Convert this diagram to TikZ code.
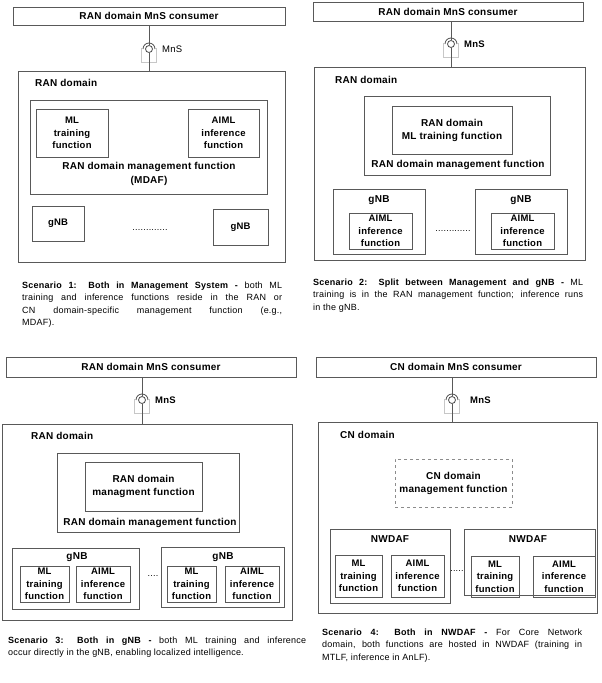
\documentclass[tikz,border=0pt]{standalone}
\usepackage{fontspec}
\setmainfont{Liberation Sans}[LetterSpace=2.5]
\usetikzlibrary{calc}

\begin{document}
\begin{tikzpicture}[x=1pt, y=-1pt,
		wh/.style 2 args={minimum width=#1pt, minimum height=#2pt},
		box/.style={draw=black!65, line width=0.8pt, inner sep=0pt, align=center, font=\bfseries\fontsize{9.5}{12.5}\selectfont},
		dashbox/.style={box, draw=black!45, dashed},
		big/.style={font=\bfseries\fontsize{10}{13}\selectfont},
		lbl/.style={inner sep=0pt, align=center, big},
		mnslbl/.style={anchor=west, inner sep=0pt, font=\bfseries\fontsize{9.5}{12}\selectfont},
		mns/.style={circle, draw=black!70, line width=0.8pt, inner sep=0pt, minimum size=7pt},
		socket/.style={draw=black!70, line width=0.8pt},
		ghost/.style={draw=black!22, line width=0.6pt},
		link/.style={draw=black!65, line width=0.8pt},
		dots/.style={inner sep=0pt, font=\fontsize{9}{10}\selectfont},
		caption/.style={anchor=north west, inner sep=0pt, align=justify, font=\fontsize{9}{12.5}\selectfont}]
	\useasboundingbox (0,0) rectangle (602,683);

	% Scenario 1: both in management system
	\begin{scope}
		\node [box, big, wh={272}{18}] (s1con) at (149,16) {RAN domain MnS consumer};
		\node [box, wh={267}{191}] (s1ran) at (151.5,166.5) {};
		\node [lbl, anchor=west] (s1ranlbl) at (35,83) {RAN domain};
		\node [box, wh={237}{94}] (s1mf) at (148.5,147) {};
		\node [box, wh={72}{48}] (s1ml) at (72,133) {ML\\training\\function};
		\node [box, wh={71}{48}] (s1inf) at (223.5,133) {AIML\\inference\\function};
		\node [lbl, font=\bfseries\fontsize{10}{14}\selectfont] (s1mflbl) at (149,174) {RAN domain management function\\(MDAF)};
		\node [box, wh={52}{35}] (s1gnb1) at (58,223.5) {gNB};
		\node [box, wh={55}{36}] (s1gnb2) at (240.5,227) {gNB};
		\node [dots] (s1dots) at (150,230) {.............};

		\node [mns] (s1mns) at (149,49) {};
		\node [mnslbl, font=\fontsize{9.5}{12}\selectfont] (s1mnslbl) at (162,49) {MnS};
		\draw [socket] ($ (s1mns) + (-6,0) $) arc [start angle=180, end angle=0, radius=6pt];
		\draw [ghost] ($ (s1mns) + (-7.5,-1) $) -- ++(0,14) -- ++(15,0) -- ++(0,-14);
		\draw [link] (s1con.south -| s1mns) -- (s1mns) -- (s1mns |- s1ran.north);

		\node [caption, text width=260pt] (s1cap) at (22,281.5) {\textbf{Scenario 1: Both in Management System -} both ML\linebreak training and inference functions reside in the RAN or\linebreak CN domain-specific management function (e.g.,\linebreak MDAF).};
	\end{scope}

	% Scenario 2: split between management and gNB
	\begin{scope}
		\node [box, big, wh={270}{19}] (s2con) at (448,11.5) {RAN domain MnS consumer};
		\node [box, wh={271}{193}] (s2ran) at (449.5,163.5) {};
		\node [lbl, anchor=west] (s2ranlbl) at (335,80) {RAN domain};
		\node [box, wh={186}{79}] (s2mf) at (457,135.5) {};
		\node [box, big, wh={120}{48}] (s2ml) at (452,130) {RAN domain\\ML training function};
		\node [lbl] (s2mflbl) at (458,165) {RAN domain management function};
		\node [box, wh={92}{65}] (s2gnb1) at (379,221.5) {};
		\node [lbl] (s2gnb1lbl) at (379,200) {gNB};
		\node [box, wh={63}{36}] (s2inf1) at (380.5,231) {AIML\\inference\\function};
		\node [box, wh={92}{65}] (s2gnb2) at (521,221.5) {};
		\node [lbl] (s2gnb2lbl) at (521,200) {gNB};
		\node [box, wh={63}{36}] (s2inf2) at (522.5,231) {AIML\\inference\\function};
		\node [dots] (s2dots) at (453,231) {.............};

		\node [mns] (s2mns) at (451,44) {};
		\node [mnslbl] (s2mnslbl) at (464,44) {MnS};
		\draw [socket] ($ (s2mns) + (-6,0) $) arc [start angle=180, end angle=0, radius=6pt];
		\draw [ghost] ($ (s2mns) + (-7.5,-1) $) -- ++(0,14) -- ++(15,0) -- ++(0,-14);
		\draw [link] (s2con.south -| s2mns) -- (s2mns) -- (s2mns |- s2ran.north);

		\node [caption, text width=270pt] (s2cap) at (313,278.5) {\textbf{Scenario 2: Split between Management and gNB -} ML\linebreak training is in the RAN management function; inference runs\linebreak in the gNB.};
	\end{scope}

	% Scenario 3: both in gNB
	\begin{scope}
		\node [box, big, wh={290}{20}] (s3con) at (151,367) {RAN domain MnS consumer};
		\node [box, wh={290}{196}] (s3ran) at (147,522) {};
		\node [lbl, anchor=west] (s3ranlbl) at (31,436) {RAN domain};
		\node [box, wh={182}{79}] (s3mf) at (148,492.5) {};
		\node [box, big, wh={117}{49}] (s3mgt) at (143.5,486.5) {RAN domain\\managment function};
		\node [lbl] (s3mflbl) at (150,523) {RAN domain management function};
		\node [box, wh={127}{61}] (s3gnb1) at (75.5,578.5) {};
		\node [lbl] (s3gnb1lbl) at (77,557) {gNB};
		\node [box, wh={49}{36}] (s3ml1) at (44.5,584) {ML\\training\\function};
		\node [box, wh={54}{36}] (s3inf1) at (103,584) {AIML\\inference\\function};
		\node [box, wh={123}{60}] (s3gnb2) at (222.5,577) {};
		\node [lbl] (s3gnb2lbl) at (223,557) {gNB};
		\node [box, wh={49}{36}] (s3ml2) at (191.5,584) {ML\\training\\function};
		\node [box, wh={54}{36}] (s3inf2) at (252,584) {AIML\\inference\\function};
		\node [dots] (s3dots) at (153,576) {....};

		\node [mns] (s3mns) at (142,400) {};
		\node [mnslbl] (s3mnslbl) at (155,400) {MnS};
		\draw [socket] ($ (s3mns) + (-6,0) $) arc [start angle=180, end angle=0, radius=6pt];
		\draw [ghost] ($ (s3mns) + (-7.5,-1) $) -- ++(0,14) -- ++(15,0) -- ++(0,-14);
		\draw [link] (s3con.south -| s3mns) -- (s3mns) -- (s3mns |- s3ran.north);

		\node [caption, text width=298pt] (s3cap) at (8,636.5) {\textbf{Scenario 3: Both in gNB -} both ML training and inference\linebreak occur directly in the gNB, enabling localized intelligence.};
	\end{scope}

	% Scenario 4: both in NWDAF
	\begin{scope}
		\node [box, big, wh={280}{20}] (s4con) at (456,367) {CN domain MnS consumer};
		\node [box, wh={279}{191}] (s4cn) at (457.5,517.5) {};
		\node [lbl, anchor=west] (s4cnlbl) at (340,435) {CN domain};
		\node [dashbox, big, wh={117}{48}] (s4mf) at (453.5,483) {CN domain\\management function};
		\node [box, wh={120}{74}] (s4nw1) at (390,566) {};
		\node [lbl] (s4nw1lbl) at (390,539) {NWDAF};
		\node [box, wh={47}{42}] (s4ml1) at (358.5,576) {ML\\training\\function};
		\node [box, wh={53}{42}] (s4inf1) at (417.5,576) {AIML\\inference\\function};
		\node [box, wh={131}{66}] (s4nw2) at (529.5,562) {};
		\node [lbl] (s4nw2lbl) at (528,539) {NWDAF};
		\node [box, wh={48}{41}] (s4ml2) at (495,576.5) {ML\\training\\function};
		\node [box, wh={62}{41}] (s4inf2) at (564,576.5) {AIML\\inference\\function};
		\node [dots] (s4dots) at (457,571) {.....};

		\node [mns] (s4mns) at (452,400) {};
		\node [mnslbl] (s4mnslbl) at (470,400) {MnS};
		\draw [socket] ($ (s4mns) + (-6,0) $) arc [start angle=180, end angle=0, radius=6pt];
		\draw [ghost] ($ (s4mns) + (-7.5,-1) $) -- ++(0,14) -- ++(15,0) -- ++(0,-14);
		\draw [link] (s4con.south -| s4mns) -- (s4mns) -- (s4mns |- s4cn.north);

		\node [caption, text width=260pt] (s4cap) at (322,628.5) {\textbf{Scenario 4: Both in NWDAF -} For Core Network\linebreak domain, both functions are hosted in NWDAF (training in\linebreak MTLF, inference in AnLF).};
	\end{scope}
\end{tikzpicture}
\end{document}
